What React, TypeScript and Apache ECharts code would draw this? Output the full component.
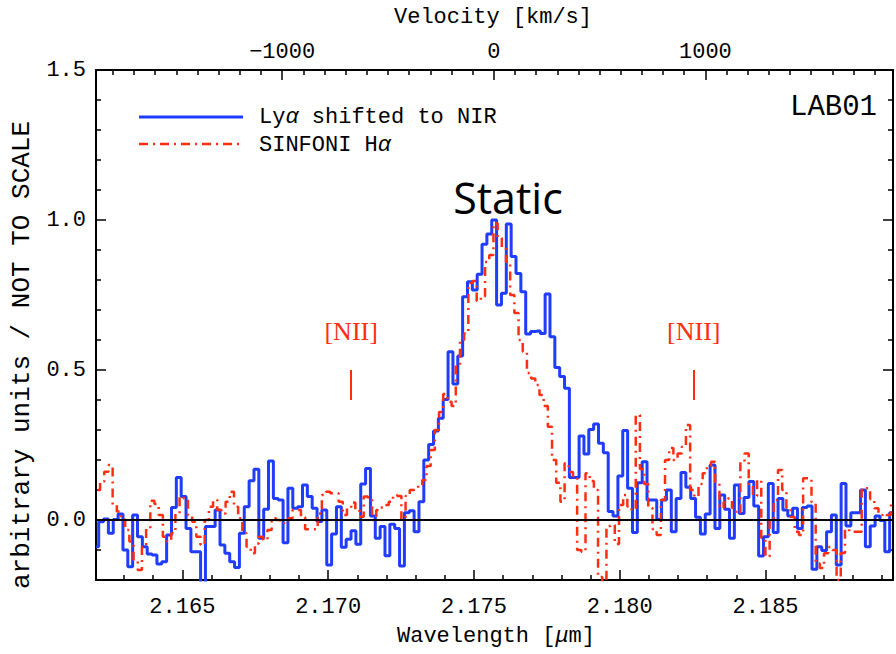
import { useEffect, useRef } from 'react';
import * as echarts from 'echarts';

// Axis ranges
const LAMBDA_MIN = 2.16204;
const LAMBDA_MAX = 2.18937;
const LAMBDA_0 = 2.17568; // systemic (zero velocity) wavelength, micron
const C_KMS = 299792.458;

// Spectral grids (bin centres = start + i * dispersion)
const LYA_LAMBDA_START = 2.162049;
const LYA_DISPERSION = 0.0001664;
const HA_LAMBDA_START = 2.162108;
const HA_DISPERSION = 0.0001435;

// Ly-alpha shifted to NIR (blue histogram)
const LYA_VALUES = [
  -0.089, -0.006, 0.003, -0.044, 0.002, 0.02, -0.1, -0.156, 0.017, -0.056,
  -0.089, -0.113, -0.117, -0.147, -0.139, -0.05, 0.042, 0.142, 0.078, -0.028,
  -0.106, -0.106, -0.26, -0.022, -0.022, 0.033, -0.083, -0.111, -0.139, -0.158,
  -0.044, 0.044, 0.131, 0.169, -0.061, 0.036, 0.197, 0.072, 0.067, -0.076,
  0.106, 0.039, 0.044, 0.117, 0.078, 0.039, -0.005, 0.033, -0.15, -0.047,
  0.044, -0.091, -0.064, -0.036, -0.081, 0.12, 0.172, 0.013, -0.061, -0.022,
  -0.119, -0.014, -0.028, -0.153, 0.024, 0.031, -0.039, 0.061, 0.2, 0.252,
  0.297, 0.339, 0.402, 0.561, 0.453, 0.547, 0.744, 0.794, 0.767, 0.819,
  0.919, 0.953, 1.0, 0.717, 0.756, 0.987, 0.878, 0.822, 0.761, 0.62,
  0.628, 0.63, 0.622, 0.753, 0.611, 0.508, 0.478, 0.439, 0.142, 0.142,
  0.28, 0.22, 0.302, 0.32, 0.256, 0.224, 0.028, 0.013, 0.147, 0.298,
  0.106, -0.042, 0.124, 0.194, 0.067, 0.067, 0.002, 0.067, 0.1, -0.039,
  0.072, 0.158, 0.109, 0.072, 0.009, -0.047, 0.02, 0.183, -0.028, 0.083,
  0.036, -0.061, 0.117, 0.022, 0.075, 0.128, 0.047, -0.12, -0.056, 0.122,
  -0.042, 0.072, 0.033, 0.013, 0.039, -0.028, 0.042, 0.047, -0.164, -0.089,
  -0.102, -0.039, 0.017, -0.15, 0.122, -0.02, 0.024, 0.024, 0.1, -0.089,
  -0.02, 0.013, -0.002, -0.106, 0.024,
];

// SINFONI H-alpha (red dash-dot)
const HA_VALUES = [
  0.1, 0.128, 0.161, 0.183, 0.05, 0.028, 0.002, -0.033, -0.072, -0.133,
  -0.167, -0.089, -0.028, 0.064, 0.053, 0.017, -0.056, -0.072, -0.044, 0.022,
  0.078, 0.072, 0.017, -0.006, -0.056, -0.083, 0, 0.044, 0.067, 0.033,
  0.022, 0.061, 0.094, 0.044, 0.006, -0.044, -0.089, -0.111, -0.078, -0.056,
  -0.067, -0.033, 0.006, 0, -0.011, -0.006, 0.006, 0.033, 0.033, 0.009,
  -0.031, -0.031, -0.031, 0.022, 0.083, 0.094, 0.089, 0.089, 0.061, 0.017,
  0.039, 0.058, 0.033, 0.011, 0.078, 0.067, 0, 0.033, 0.042, 0.05,
  0.061, 0.083, 0.08, 0.002, 0.08, 0.1, 0.102, 0.117, 0.133, 0.18,
  0.233, 0.3, 0.36, 0.42, 0.394, 0.38, 0.52, 0.6, 0.622, 0.79,
  0.797, 0.73, 0.745, 0.86, 0.883, 0.989, 0.94, 0.908, 0.86, 0.75,
  0.69, 0.6, 0.561, 0.49, 0.472, 0.45, 0.417, 0.38, 0.311, 0.2,
  0.124, 0.061, 0.189, 0.16, 0.14, -0.1, -0.106, 0.156, 0.13, 0.1,
  -0.19, -0.22, -0.02, -0.017, -0.08, 0.05, 0.083, 0.045, 0.033, 0.35,
  0.17, 0.12, 0.04, -0.03, -0.05, 0.067, 0.2, 0.24, 0.2, 0.222,
  0.244, 0.317, 0.1, 0.078, 0.12, 0.156, 0.178, 0.194, 0.122, 0.04,
  0.06, 0.072, 0.04, 0.022, 0.194, 0.222, 0.12, 0.08, 0.133, -0.06,
  -0.122, 0, 0.067, 0.167, 0.1, 0.04, 0.01, -0.039, -0.05, 0.139,
  0.139, 0.06, -0.145, -0.16, -0.111, -0.09, -0.1, -0.2, -0.11, -0.03,
  -0.039, -0.039, -0.039, 0.106, 0.106, 0.07, 0.039, 0.017, 0.012, 0.017,
  0.06,
];

// [NII] 6548, 6583 positions (micron)
const NII_LINES = [2.17079, 2.18254];

const BLUE = '#1f3cff';
const RED = '#ff2e12';
const MONO = '"Liberation Mono", "DejaVu Sans Mono", monospace';
const SERIF = '"Liberation Serif", "DejaVu Serif", serif';

const VEL_MIN = (C_KMS * (LAMBDA_MIN - LAMBDA_0)) / LAMBDA_0;
const VEL_MAX = (C_KMS * (LAMBDA_MAX - LAMBDA_0)) / LAMBDA_0;

const isMultiple = (v: number, step: number) =>
  Math.abs(v / step - Math.round(v / step)) < 1e-6;

const tickStyle = { color: '#000', width: 1.5 };

function buildOption() {
  const lyaData = LYA_VALUES.map((v, i) => [LYA_LAMBDA_START + i * LYA_DISPERSION, v]);
  const haData = HA_VALUES.map((v, i) => [HA_LAMBDA_START + i * HA_DISPERSION, v]);

  const baseAxis = {
    type: 'value' as const,
    axisLine: { show: true, onZero: false, lineStyle: { color: '#000', width: 2 } },
    axisTick: { show: true, inside: true, length: 10, lineStyle: tickStyle },
    minorTick: { show: true, length: 5, lineStyle: tickStyle },
    splitLine: { show: false },
    minorSplitLine: { show: false },
  };

  return {
    animation: false,
    backgroundColor: '#fff',
    grid: { left: 96, right: 0, top: 70, bottom: 74, containLabel: false },
    xAxis: [
      {
        ...baseAxis,
        position: 'bottom',
        min: LAMBDA_MIN,
        max: LAMBDA_MAX,
        splitNumber: 5,
        minorTick: { ...baseAxis.minorTick, splitNumber: 5 },
        axisLabel: {
          margin: 16,
          fontFamily: MONO,
          fontSize: 22,
          color: '#000',
          formatter: (v: number) => (isMultiple(v, 0.005) ? v.toFixed(3) : ''),
        },
      },
      {
        ...baseAxis,
        position: 'top',
        min: VEL_MIN,
        max: VEL_MAX,
        splitNumber: 4,
        minorTick: { ...baseAxis.minorTick, splitNumber: 10 },
        axisLabel: {
          margin: 7,
          fontFamily: MONO,
          fontSize: 22,
          color: '#000',
          formatter: (v: number) =>
            isMultiple(v, 1000) ? String(Math.round(v)).replace('-', '\u2212') : '',
        },
      },
    ],
    yAxis: [
      {
        ...baseAxis,
        position: 'left',
        min: -0.2,
        max: 1.5,
        splitNumber: 3,
        minorTick: { ...baseAxis.minorTick, splitNumber: 5 },
        axisLabel: {
          margin: 10,
          fontFamily: MONO,
          fontSize: 22,
          color: '#000',
          formatter: (v: number) => (isMultiple(v, 0.5) ? v.toFixed(1) : ''),
        },
      },
      {
        ...baseAxis,
        position: 'right',
        min: -0.2,
        max: 1.5,
        splitNumber: 3,
        minorTick: { ...baseAxis.minorTick, splitNumber: 5 },
        axisLabel: { show: false },
      },
    ],
    series: [
      {
        name: 'Lya shifted to NIR',
        type: 'line',
        xAxisIndex: 0,
        yAxisIndex: 0,
        data: lyaData,
        step: 'middle',
        symbol: 'none',
        silent: true,
        clip: true,
        lineStyle: { color: BLUE, width: 3 },
        z: 2,
      },
      {
        name: 'SINFONI Ha',
        type: 'line',
        xAxisIndex: 0,
        yAxisIndex: 0,
        data: haData,
        step: 'middle',
        symbol: 'none',
        silent: true,
        clip: true,
        lineStyle: { color: RED, width: 2.5, type: [9, 5, 2, 5] },
        z: 3,
        markLine: {
          silent: true,
          symbol: ['none', 'none'],
          label: { show: false },
          animation: false,
          data: [
            [
              { coord: [LAMBDA_MIN, 0], lineStyle: { color: '#000', type: 'solid', width: 2 } },
              { coord: [LAMBDA_MAX, 0] },
            ],
            ...NII_LINES.map((l) => [
              { coord: [l, 0.4], lineStyle: { color: RED, type: 'solid', width: 2 } },
              { coord: [l, 0.5] },
            ]),
          ],
        },
        markPoint: {
          silent: true,
          symbol: 'circle',
          symbolSize: 1,
          itemStyle: { color: 'rgba(0,0,0,0)' },
          label: {
            show: true,
            position: 'inside',
            formatter: '[NII]',
            color: RED,
            fontFamily: SERIF,
            fontSize: 26,
          },
          data: NII_LINES.map((l) => ({ coord: [l, 0.627] })),
        },
      },
    ],
    graphic: [
      {
        type: 'text',
        x: 493,
        y: 17,
        style: {
          text: 'Velocity [km/s]',
          font: `22px ${MONO}`,
          fill: '#000',
          align: 'center',
          verticalAlign: 'middle',
        },
      },
      {
        type: 'text',
        x: 496,
        y: 636,
        style: {
          text: '{a|Wavelength [}{b|\u03bc}{a|m]}',
          align: 'center',
          verticalAlign: 'middle',
          rich: {
            a: { fontFamily: MONO, fontSize: 22, fill: '#000' },
            b: { fontFamily: MONO, fontSize: 22, fontStyle: 'italic', fill: '#000' },
          },
        },
      },
      {
        type: 'text',
        x: 22,
        y: 355,
        rotation: Math.PI / 2,
        style: {
          text: 'arbitrary units / NOT TO SCALE',
          font: `26px ${MONO}`,
          fill: '#000',
          align: 'center',
          verticalAlign: 'middle',
        },
      },
      {
        type: 'text',
        x: 877,
        y: 107,
        style: {
          text: 'LAB01',
          font: `29px ${MONO}`,
          fill: '#000',
          align: 'right',
          verticalAlign: 'middle',
        },
      },
      {
        type: 'text',
        x: 508,
        y: 197,
        style: {
          text: 'Static',
          font: `43px "Open Sans", "Noto Sans", sans-serif`,
          fill: '#000',
          align: 'center',
          verticalAlign: 'middle',
        },
      },
      {
        type: 'line',
        shape: { x1: 139, y1: 117, x2: 243, y2: 117 },
        style: { stroke: BLUE, lineWidth: 3 },
      },
      {
        type: 'line',
        shape: { x1: 139, y1: 144, x2: 243, y2: 144 },
        style: { stroke: RED, lineWidth: 2.5, lineDash: [9, 5, 2, 5] },
      },
      {
        type: 'text',
        x: 259,
        y: 117,
        style: {
          text: '{a|Ly}{b|\u03b1}{a| shifted to NIR}',
          verticalAlign: 'middle',
          rich: {
            a: { fontFamily: MONO, fontSize: 22, fill: '#000' },
            b: { fontFamily: MONO, fontSize: 22, fontStyle: 'italic', fill: '#000' },
          },
        },
      },
      {
        type: 'text',
        x: 259,
        y: 145,
        style: {
          text: '{a|SINFONI H}{b|\u03b1}',
          verticalAlign: 'middle',
          rich: {
            a: { fontFamily: MONO, fontSize: 22, fill: '#000' },
            b: { fontFamily: MONO, fontSize: 22, fontStyle: 'italic', fill: '#000' },
          },
        },
      },
    ],
  };
}

export default function App() {
  const ref = useRef<HTMLDivElement>(null);
  useEffect(() => {
    document.body.style.margin = '0';
    const chart = echarts.init(ref.current as HTMLDivElement, null, {
      renderer: 'svg',
      width: 896,
      height: 654,
    });
    chart.setOption(buildOption() as any);
    return () => chart.dispose();
  }, []);
  return <div ref={ref} style={{ width: 896, height: 654 }} />;
}
